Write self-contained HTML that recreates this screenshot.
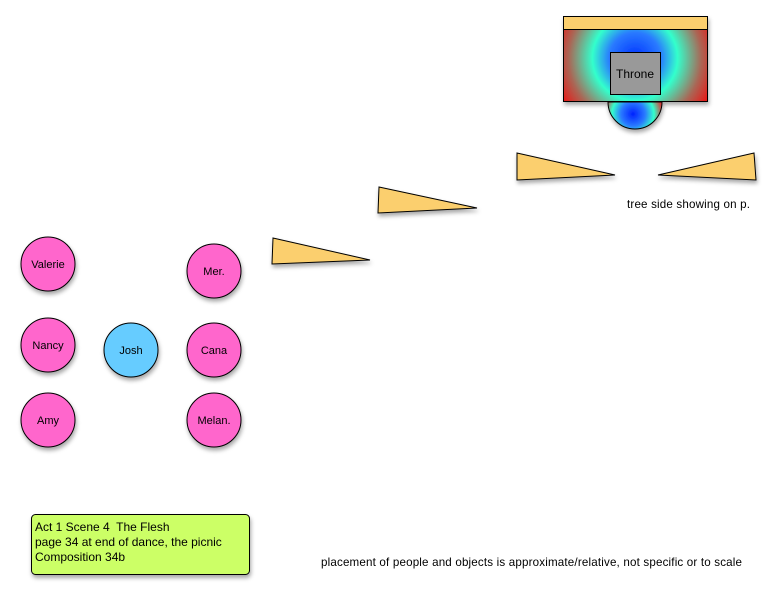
<!DOCTYPE html>
<html><head><style>
body{margin:0;background:#fff;}
svg text{font-family:"Liberation Sans",sans-serif;}
</style></head><body>
<svg width="776" height="598" xmlns="http://www.w3.org/2000/svg">
<defs>
<radialGradient id="g1" cx="635" cy="58" r="85" gradientUnits="userSpaceOnUse">
<stop offset="0" stop-color="#0033ff"/><stop offset="0.3" stop-color="#2a7aff"/><stop offset="0.5" stop-color="#33ffcc"/><stop offset="0.78" stop-color="#aa6655"/><stop offset="1" stop-color="#ee1111"/>
</radialGradient>
<radialGradient id="g2" cx="633" cy="114" r="30" gradientUnits="userSpaceOnUse">
<stop offset="0" stop-color="#0022ff"/><stop offset="0.4" stop-color="#2a7aff"/><stop offset="0.7" stop-color="#33ffcc"/><stop offset="1" stop-color="#dd3333"/>
</radialGradient>
<filter id="sh" x="-20%" y="-20%" width="150%" height="150%"><feDropShadow dx="1" dy="3" stdDeviation="2" flood-opacity="0.35"/></filter>
</defs>
<g filter="url(#sh)" stroke="#000" stroke-width="1">
<path d="M608,102 A27,27 0 0 0 662,102 Z" fill="url(#g2)"/>
<rect x="563.5" y="29.5" width="144" height="72" fill="url(#g1)"/>
<rect x="563.5" y="16.5" width="144" height="13" fill="#fbcf6e"/>
<rect x="610.5" y="52.5" width="50" height="42" fill="#999"/>
<polygon points="517,153 517,180 615,175" fill="#fbcf6e"/>
<polygon points="658,175 754,153 756,180" fill="#fbcf6e"/>
<polygon points="379,187 378,213 477,208" fill="#fbcf6e"/>
<polygon points="273,238 272,264 370,260" fill="#fbcf6e"/>
<circle cx="48" cy="264" r="27" fill="#ff66cc"/>
<circle cx="214" cy="271" r="27" fill="#ff66cc"/>
<circle cx="48" cy="345" r="27" fill="#ff66cc"/>
<circle cx="131" cy="350" r="27" fill="#66ccff"/>
<circle cx="214" cy="350" r="27" fill="#ff66cc"/>
<circle cx="48" cy="420" r="27" fill="#ff66cc"/>
<circle cx="214" cy="420" r="27" fill="#ff66cc"/>
<rect x="31.5" y="514.5" width="218" height="60" rx="4" fill="#ccff66"/>
</g>
<g font-size="11" text-anchor="middle" fill="#000">
<text x="635" y="78" font-size="12">Throne</text>
<text x="48" y="268">Valerie</text>
<text x="214" y="275">Mer.</text>
<text x="48" y="349">Nancy</text>
<text x="131" y="354">Josh</text>
<text x="214" y="354">Cana</text>
<text x="48" y="424">Amy</text>
<text x="214" y="424">Melan.</text>
</g>
<g font-size="11.6" fill="#000">
<text x="627" y="208" textLength="123" lengthAdjust="spacing">tree side showing on p.</text>
<text x="321" y="566" textLength="421" lengthAdjust="spacing">placement of people and objects is approximate/relative, not specific or to scale</text>
<text x="35" y="531" font-size="12" xml:space="preserve">Act 1 Scene 4  The Flesh</text>
<text x="35" y="546" font-size="12">page 34 at end of dance, the picnic</text>
<text x="35" y="561" font-size="12">Composition 34b</text>
</g>
</svg>
</body></html>
